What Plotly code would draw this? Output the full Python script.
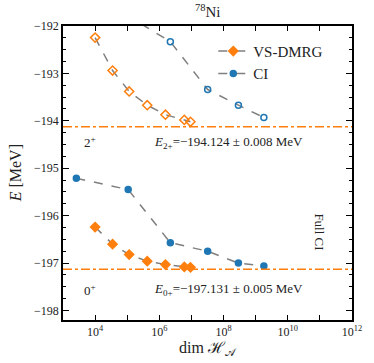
import numpy as np
import plotly.graph_objects as go

# VS-DMRG (diamonds): dim H_A and energies for 2+ (open) and 0+ (filled)
dmrg_dim = [1.0e4, 3.5e4, 1.15e5, 4.2e5, 1.55e6, 6.0e6, 9.3e6]
dmrg_2p = [-192.245, -192.94, -193.38, -193.67, -193.87, -193.98, -194.02]
dmrg_0p = [-196.24, -196.60, -196.82, -196.96, -197.03, -197.08, -197.09]

# CI (circles)
ci_dim = [2.6e3, 1.07e5, 2.2e6, 3.2e7, 2.9e8, 1.8e9]
ci_2p = [-191.3, -191.79, -192.33, -193.34, -193.67, -193.93]
ci_0p = [-195.21, -195.45, -196.57, -196.75, -197.00, -197.06]

e_2p, e_0p = -194.124, -197.131
full_ci_dim = 2.2e11

ORANGE = '#ff7f0e'
BLUE = '#1f77b4'
GRAY = '#7f7f7f'
FONT = 'Liberation Serif'

fig = go.Figure()

def series(x, y, symbol, color, size, name=None, legend=False):
    fig.add_trace(go.Scatter(
        x=x, y=y, mode='lines+markers', name=name, showlegend=legend,
        line=dict(color=GRAY, dash='dash', width=1.5),
        marker=dict(symbol=symbol, color=color, size=size,
                    line=dict(color=color, width=1.5)),
    ))

series(dmrg_dim, dmrg_2p, 'diamond-open', ORANGE, 7)
series(ci_dim, ci_2p, 'circle-open', BLUE, 6)
series(dmrg_dim, dmrg_0p, 'diamond', ORANGE, 7, 'VS-DMRG', True)
series(ci_dim, ci_0p, 'circle', BLUE, 6, 'CI', True)

for e in [e_2p, e_0p]:
    fig.add_shape(type='line', xref='x domain', x0=0, x1=1, yref='y', y0=e, y1=e,
                  line=dict(color=ORANGE, dash='dashdot', width=1.5))
fig.add_shape(type='line', xref='x', x0=np.log10(full_ci_dim), x1=np.log10(full_ci_dim),
              yref='y domain', y0=0, y1=1, line=dict(color='black', dash='dot', width=1.5))

txt = dict(font=dict(family=FONT, size=13, color='#222'), showarrow=False)
fig.add_annotation(x=3.85, y=-194.45, text='2<sup>+</sup>', **txt)
fig.add_annotation(x=3.85, y=-197.56, text='0<sup>+</sup>', **txt)
fig.add_annotation(x=8.16, y=-194.45,
                   text=f'<i>E</i><sub>2+</sub>=−{abs(e_2p):.3f} ± 0.008 MeV', **txt)
fig.add_annotation(x=8.16, y=-197.56,
                   text=f'<i>E</i><sub>0+</sub>=−{abs(e_0p):.3f} ± 0.005 MeV', **txt)
fig.add_annotation(x=11.0, y=-196.35, text='Full CI', textangle=90, **txt)

fig.add_annotation(xref='paper', yref='paper', x=0.5, y=1.0, yshift=15, yanchor='middle',
                   text='<sup>78</sup>Ni', font=dict(family=FONT, size=15, color='#222'),
                   showarrow=False)
fig.add_annotation(xref='paper', yref='paper', x=-0.165, y=0.5, textangle=-90,
                   xanchor='center', yanchor='middle',
                   text='<i>E</i> [MeV]', font=dict(family=FONT, size=16, color='#222'),
                   showarrow=False)
fig.add_annotation(xref='paper', yref='paper', x=0.5, y=0, yshift=-28, yanchor='middle',
                   text='dim ℋ<sub>𝒜</sub>', font=dict(family=FONT, size=16, color='#222'),
                   showarrow=False)

decades = list(range(3, 13))
axis_common = dict(showline=True, linecolor='black', linewidth=1.5, mirror='ticks',
                   ticks='inside', tickcolor='black', showgrid=False, zeroline=False,
                   tickfont=dict(family=FONT, size=12, color='#222'))
fig.update_xaxes(type='log', range=[3, 12], ticklen=5, tickwidth=1.2,
                 tickvals=[10 ** d for d in decades],
                 ticktext=[f'10<sup>{d}</sup>' if d % 2 == 0 and d > 3 else '' for d in decades],
                 **axis_common)
fig.update_yaxes(range=[-198.2, -192], dtick=1, ticklen=6, tickwidth=1.2,
                 tickformat='d', minor=dict(dtick=0.25, ticks='inside', ticklen=3,
                                            tickcolor='black', tickwidth=1),
                 **axis_common)

fig.update_layout(
    width=374, height=363,
    margin=dict(l=63, r=16, t=26, b=43),
    plot_bgcolor='white', paper_bgcolor='white',
    font=dict(family=FONT, color='#222'),
    legend=dict(x=0.52, y=0.97, xanchor='left', yanchor='top', bgcolor='rgba(0,0,0,0)',
                font=dict(family=FONT, size=15), itemwidth=30, tracegroupgap=0),
)

fig.write_html("out.html", config={'displayModeBar': False},
               post_script="document.body.style.margin='0';")
